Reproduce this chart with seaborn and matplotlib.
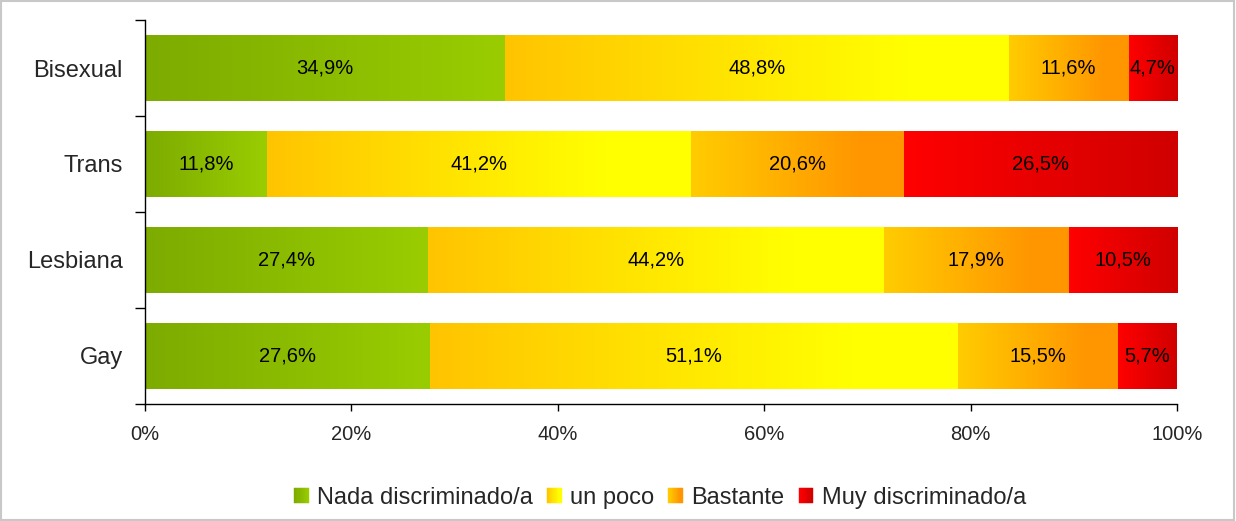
import numpy as np
import pandas as pd
import matplotlib
matplotlib.use("Agg")
import matplotlib.pyplot as plt
import seaborn as sns
from matplotlib.colors import to_rgb
from matplotlib.patches import Rectangle
from matplotlib.legend_handler import HandlerBase

categories = ["Bisexual", "Trans", "Lesbiana", "Gay"]
nada = [34.9, 11.8, 27.4, 27.6]
poco = [48.8, 41.2, 44.2, 51.1]
bastante = [11.6, 20.6, 17.9, 15.5]
muy = [4.7, 26.5, 10.5, 5.7]
series_names = ["Nada discriminado/a", "un poco", "Bastante", "Muy discriminado/a"]
x_ticks = [0, 20, 40, 60, 80, 100]

# left colour, right colour, where the gradient stops changing
gradients = [("#7dab00", "#9acd00", 1.0),
             ("#ffc400", "#ffff00", 0.8),
             ("#ffcc00", "#ff9600", 0.8),
             ("#ff0000", "#d00000", 1.0)]


def grad_colors(c0, c1, stop, n):
    t = np.clip(np.linspace(0, 1, n) / stop, 0, 1)[:, None]
    a, b = np.array(to_rgb(c0)), np.array(to_rgb(c1))
    return a + (b - a) * t


class GradientHandler(HandlerBase):
    def __init__(self, c0, c1, stop):
        super().__init__()
        self.c0, self.c1, self.stop = c0, c1, stop

    def create_artists(self, legend, orig_handle, xdescent, ydescent,
                       width, height, fontsize, trans):
        n = 14
        cols = grad_colors(self.c0, self.c1, self.stop, n)
        arts = []
        for j in range(n):
            r = Rectangle((-xdescent + width * j / n, -ydescent), width / n, height,
                          facecolor=cols[j], edgecolor=cols[j], lw=0.3, transform=trans)
            arts.append(r)
        return arts


df = pd.DataFrame({"cat": categories, series_names[0]: nada, series_names[1]: poco,
                   series_names[2]: bastante, series_names[3]: muy})
vals = df[series_names]
pct = vals.div(vals.sum(axis=1), axis=0) * 100
cum = pct.cumsum(axis=1)

sns.set_theme(style="ticks")
plt.rcParams["font.family"] = ["Liberation Sans", "DejaVu Sans"]

fig = plt.figure(figsize=(12.36, 5.21), dpi=100)
ax = fig.add_axes([0.1173, 0.2246, 0.835, 0.737])

for name in series_names:
    sns.barplot(x=cum[name], y=df["cat"], orient="h", width=0.68, color="white",
                linewidth=0, saturation=1, ax=ax)

for k, name in enumerate(series_names):
    c0, c1, stop = gradients[k]
    img = grad_colors(c0, c1, stop, 256)[None, :, :]
    for i, bar in enumerate(ax.containers[k]):
        w = pct[name].iloc[i]
        left = cum[name].iloc[i] - w
        bar.set_x(left)
        bar.set_width(w)
        bar.set_visible(False)
        y0 = bar.get_y()
        h = bar.get_height()
        ax.imshow(img, extent=[left, left + w, y0 + h, y0], aspect="auto",
                  interpolation="bilinear", zorder=2)
        label = f"{vals[name].iloc[i]:.1f}".replace(".", ",") + "%"
        ax.text(left + w / 2, y0 + h / 2, label, ha="center", va="center",
                fontsize=14.5, color="black", zorder=3)

ax.set_xlim(0, 100)
ax.set_ylim(3.5, -0.5)
ax.set_xticks(x_ticks)
ax.set_xticklabels([f"{v}%" for v in x_ticks], fontsize=14.5)
ax.set_yticks(range(len(categories)))
ax.set_yticklabels(categories, fontsize=17)
ax.set_yticks(np.arange(-0.5, len(categories), 1), minor=True)
ax.tick_params(axis="y", which="major", length=0, pad=16)
ax.tick_params(axis="y", which="minor", length=7, width=1, direction="out", color="black")
ax.tick_params(axis="x", which="major", length=5, width=1, direction="out", pad=10, color="black")
ax.set_xlabel("")
ax.set_ylabel("")
for s in ["top", "right"]:
    ax.spines[s].set_visible(False)
for s in ["left", "bottom"]:
    ax.spines[s].set_color("black")
    ax.spines[s].set_linewidth(1)

handles = [Rectangle((0, 0), 1, 1) for _ in series_names]
hmap = {h: GradientHandler(*gradients[k]) for k, h in enumerate(handles)}
fig.legend(handles, series_names, handler_map=hmap, loc="center",
           bbox_to_anchor=(0.534, 0.044), ncol=4, frameon=False, fontsize=17,
           handlelength=0.62, handleheight=0.62, handletextpad=0.35,
           columnspacing=0.6, borderaxespad=0)

fig.add_artist(Rectangle((0.001, 0.002), 0.997, 0.996, transform=fig.transFigure,
                         fill=False, edgecolor="#c8c8c8", lw=1.5))

fig.savefig("out.png", dpi=100)
